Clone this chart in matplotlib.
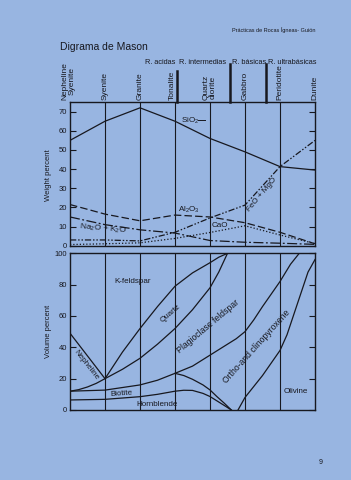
import matplotlib
matplotlib.use("Agg")
import matplotlib.pyplot as plt
import matplotlib.transforms as mtransforms

plt.rcParams["font.family"] = ["Liberation Sans", "DejaVu Sans"]
plt.rcParams["mathtext.fontset"] = "custom"
plt.rcParams["mathtext.rm"] = "Liberation Sans"
plt.rcParams["mathtext.it"] = "Liberation Sans:italic"

INK = "#17181f"
PAPER = "#98b5e1"

# rock types along the x axis (0 = nepheline syenite ... 7 = dunite)
rocks = ["Nepheline\nSyenite", "Syenite", "Granite", "Tonalite",
         "Quartz\ndiorite", "Gabbro", "Peridotite", "Dunite"]
rock_pos = [0, 1, 2, 3, 4, 5, 6, 7]
label_pos = [-0.05, 1, 2, 2.92, 4, 5, 6, 7]
groups = ["R. acidas", "R. intermedias", "R. básicas", "R. ultrabásicas"]
group_breaks = [3.07, 4.58, 5.6]

# weight percent of oxides
sio2 = [55, 65, 72, 65, 56, 49, 41.3, 39.5]
al2o3 = [21.5, 16.5, 13, 16, 15, 12, 7, 1]
alkali = [15, 11, 8.3, 6.6, 2.7, 1.8, 1.3, 0.7]
femg = [3, 3, 2.5, 7, 14.5, 21.2, 41.3, 55]
cao = [0.6, 1, 1.5, 3.8, 6.9, 10.4, 5.6, 1.1]

# volume percent mineral boundaries
neph_x = [0, 1]
neph_y = [49, 20]
qplag_x = [0, 0.25, 0.5, 0.75, 1, 1.5, 2, 2.5, 3, 3.5, 4, 4.25, 4.5]
qplag_y = [12, 13, 14.7, 17, 20, 26, 33, 42, 52, 64, 78, 88, 100]
kfq_x = [1, 1.5, 2, 2.5, 3, 3.5, 4, 4.25, 4.5]
kfq_y = [20, 37, 52, 66, 79, 87.5, 94, 97.5, 100]
bio_x = [0, 1, 2, 2.5, 3, 3.25, 3.5, 3.8, 4.0, 4.2, 4.4, 4.61]
bio_y = [12, 12.7, 16, 19, 23.4, 22, 19.6, 16, 12.8, 8.5, 4.5, 0]
hbl_x = [0, 1, 2, 2.5, 3, 3.25, 3.5, 3.8, 4.0, 4.2, 4.4, 4.61]
hbl_y = [6.4, 6.8, 8.5, 10, 12, 12.6, 12.5, 10.6, 8.6, 5.8, 3, 0]
plpx_x = [3, 3.5, 4, 4.5, 4.75, 5, 5.25, 5.5, 5.75, 6, 6.3, 6.55]
plpx_y = [23.4, 28, 35, 42, 45.5, 50, 57.5, 66, 74, 82, 93, 100]
oliv_x = [4.8, 5, 5.25, 5.5, 5.75, 6, 6.2, 6.5, 6.8, 7]
oliv_y = [0, 8, 15, 22, 30, 38, 48, 68, 88, 96]

W, H = 351, 480
fig = plt.figure(figsize=(W / 100, H / 100), dpi=100)
fig.patch.set_facecolor(PAPER)
ax1 = fig.add_axes([70 / W, 1 - 245.7 / H, 245 / W, 144 / H])
ax2 = fig.add_axes([70 / W, 1 - 410 / H, 245 / W, 156.7 / H])

for ax in (ax1, ax2):
    ax.set_facecolor("none")
    ax.set_xlim(0, 7)
    ax.set_xticks([])
    for s in ax.spines.values():
        s.set_color(INK)
        s.set_linewidth(1.0)
    for p in rock_pos[1:-1]:
        ax.axvline(p, color=INK, lw=0.8)
    ax.tick_params(axis="y", direction="in", length=4, width=0.8, colors=INK,
                   labelsize=5.5, right=True, pad=2)

ax1.set_ylim(0, 75.2)
ax1.set_yticks(range(0, 71, 10))
ax2.set_ylim(0, 100)
ax2.set_yticks(range(0, 101, 20))

lw = 0.9
ax1.plot(rock_pos, sio2, color=INK, lw=lw)
ax1.plot(rock_pos, al2o3, color=INK, lw=lw, ls=(0, (6, 2.5)))
ax1.plot(rock_pos, alkali, color=INK, lw=lw, ls=(0, (8, 2, 1.5, 2)))
ax1.plot(rock_pos, femg, color=INK, lw=lw, ls=(0, (5, 1.5, 1.2, 1.5, 1.2, 1.5)))
ax1.plot(rock_pos, cao, color=INK, lw=lw, ls=(0, (1, 1.6)))

fs = 5.8
ax1.text(3.42, 65.3, r"SiO$_\mathregular{2}$", fontsize=fs, ha="center", va="center", color=INK)
ax1.plot([3.65, 3.87], [65.4, 65.4], color=INK, lw=0.7)
ax1.text(3.1, 18.6, r"Al$_\mathregular{2}$O$_\mathregular{3}$", fontsize=fs, ha="left", va="center", color=INK)
ax1.text(4.29, 10.8, "CaO", fontsize=fs, ha="center", va="center", color=INK)
ax1.text(0.94, 8.9, r"Na$_\mathregular{2}$O + K$_\mathregular{2}$O", fontsize=6, ha="center",
         va="center", rotation=-5, color=INK)
ax1.text(5.48, 26.5, "FeO + MgO", fontsize=fs, ha="center", va="center", rotation=50, color=INK)

ax2.plot(neph_x, neph_y, color=INK, lw=lw)
ax2.plot(qplag_x, qplag_y, color=INK, lw=lw)
ax2.plot(kfq_x, kfq_y, color=INK, lw=lw)
ax2.plot(bio_x, bio_y, color=INK, lw=lw)
ax2.plot(hbl_x, hbl_y, color=INK, lw=lw)
ax2.plot(plpx_x, plpx_y, color=INK, lw=lw)
ax2.plot(oliv_x, oliv_y, color=INK, lw=lw)

ax2.text(1.8, 81.7, "K-feldspar", fontsize=fs, ha="center", va="center", color=INK)
ax2.text(2.87, 61.3, "Quartz", fontsize=fs, ha="center", va="center", rotation=40, color=INK)
ax2.text(3.94, 53.2, "Plagioclase feldspar", fontsize=6.2, ha="center", va="center", rotation=40, color=INK)
ax2.text(5.32, 40.4, "Ortho-and clinopyroxene", fontsize=6.2, ha="center", va="center", rotation=48, color=INK)
ax2.text(0.47, 28.7, "Nepheline", fontsize=fs, ha="center", va="center", rotation=-52, color=INK)
ax2.text(1.48, 10.2, "Biotite", fontsize=fs, ha="center", va="center", rotation=4, color=INK)
ax2.text(2.48, 3.8, "Hornblende", fontsize=fs, ha="center", va="center", color=INK)
ax2.text(6.44, 11.5, "Olivine", fontsize=fs, ha="center", va="center", color=INK)

# rock names and group separators above the top panel
trans = mtransforms.blended_transform_factory(ax1.transData, ax1.transAxes)
for p, name in zip(label_pos, rocks):
    ax1.text(p, 1.012, name, transform=trans, rotation=90, ha="center", va="bottom",
             fontsize=6, color=INK, linespacing=1.0)
for i, b in enumerate(group_breaks):
    top = 1.21 if i == 0 else 1.26
    ax1.plot([b, b], [1.0, top], transform=trans, color=INK, lw=1.8, clip_on=False)

fig.text(175 / W, 1 - 62 / H, groups[0], ha="right", va="center", fontsize=5.3, color=INK)
fig.text(179 / W, 1 - 62 / H, groups[1], ha="left", va="center", fontsize=5.3, color=INK)
fig.text(232 / W, 1 - 62 / H, groups[2], ha="left", va="center", fontsize=5.3, color=INK)
fig.text(268 / W, 1 - 62 / H, groups[3], ha="left", va="center", fontsize=5.3, color=INK)

fig.text(60 / W, 1 - 47 / H, "Digrama de Mason", ha="left", va="center", fontsize=7.5, color=INK)
fig.text(316 / W, 1 - 30 / H, "Prácticas de Rocas Ígneas- Guión", ha="right", va="center",
         fontsize=4, color=INK)
fig.text(321 / W, 1 - 463 / H, "9", ha="center", va="center", fontsize=5, color=INK)

fig.text(48.5 / W, 1 - 175 / H, "Weight percent", rotation=90, ha="center", va="center",
         fontsize=5.5, color=INK)
fig.text(48.5 / W, 1 - 331 / H, "Volume percent", rotation=90, ha="center", va="center",
         fontsize=5.5, color=INK)

fig.savefig("out.png", dpi=100, facecolor=PAPER)
